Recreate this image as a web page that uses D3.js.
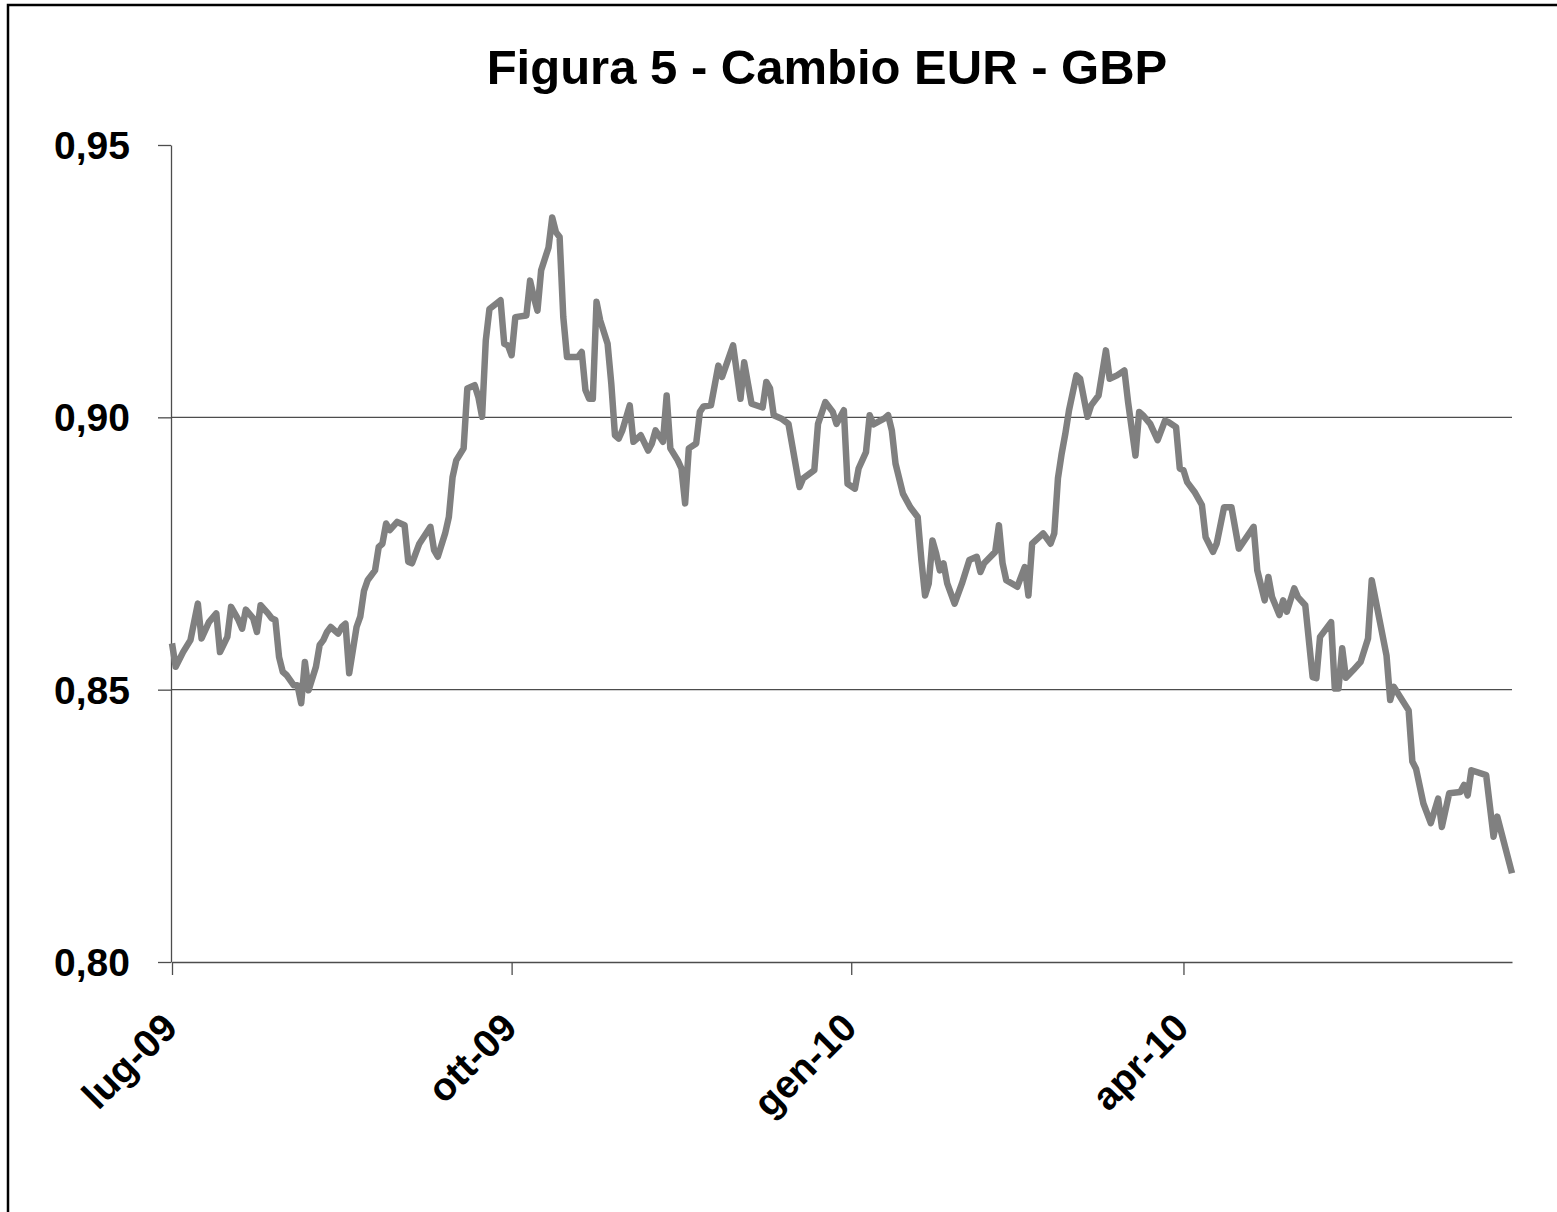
<!DOCTYPE html>
<html>
<head>
<meta charset="utf-8">
<script src="https://cdn.jsdelivr.net/npm/d3@7"></script>
<style>
  body { margin: 0; background: #fff; }
  text { font-family: "Liberation Sans", Arial, sans-serif; font-weight: bold; fill: #000; }
</style>
</head>
<body>
<div id="chart"></div>
<script>
// EUR/GBP exchange rate
const dates = [
  "2009-07-01","2009-07-02","2009-07-04","2009-07-06","2009-07-08","2009-07-09","2009-07-11","2009-07-13","2009-07-14","2009-07-16",
  "2009-07-17","2009-07-19","2009-07-20","2009-07-21","2009-07-23","2009-07-24","2009-07-25","2009-07-27","2009-07-28","2009-07-29",
  "2009-07-30","2009-07-31","2009-08-01","2009-08-03","2009-08-04","2009-08-05","2009-08-06","2009-08-07","2009-08-09","2009-08-10",
  "2009-08-11","2009-08-12","2009-08-13","2009-08-15","2009-08-16","2009-08-17","2009-08-18","2009-08-20","2009-08-21","2009-08-22",
  "2009-08-23","2009-08-25","2009-08-26","2009-08-27","2009-08-28","2009-08-29","2009-08-31","2009-09-02","2009-09-03","2009-09-04",
  "2009-09-06","2009-09-09","2009-09-10","2009-09-11","2009-09-13","2009-09-14","2009-09-15","2009-09-16","2009-09-18","2009-09-19",
  "2009-09-21","2009-09-22","2009-09-23","2009-09-24","2009-09-25","2009-09-28","2009-09-29","2009-09-30","2009-10-01","2009-10-02",
  "2009-10-05","2009-10-06","2009-10-07","2009-10-08","2009-10-09","2009-10-11","2009-10-12","2009-10-13","2009-10-14","2009-10-15",
  "2009-10-16","2009-10-19","2009-10-20","2009-10-21","2009-10-22","2009-10-23","2009-10-24","2009-10-25","2009-10-27","2009-10-28",
  "2009-10-29","2009-10-30","2009-10-31","2009-11-02","2009-11-03","2009-11-05","2009-11-07","2009-11-08","2009-11-09","2009-11-11",
  "2009-11-12","2009-11-13","2009-11-15","2009-11-16","2009-11-17","2009-11-18","2009-11-20","2009-11-21","2009-11-22","2009-11-24",
  "2009-11-26","2009-11-27","2009-11-30","2009-12-02","2009-12-03","2009-12-05","2009-12-08","2009-12-09","2009-12-10","2009-12-11",
  "2009-12-13","2009-12-15","2009-12-18","2009-12-19","2009-12-22","2009-12-23","2009-12-25","2009-12-27","2009-12-28","2009-12-30",
  "2009-12-31","2010-01-02","2010-01-03","2010-01-05","2010-01-06","2010-01-07","2010-01-10","2010-01-11","2010-01-12","2010-01-13",
  "2010-01-15","2010-01-17","2010-01-19","2010-01-20","2010-01-21","2010-01-22","2010-01-23","2010-01-24","2010-01-25","2010-01-26",
  "2010-01-27","2010-01-29","2010-01-31","2010-02-02","2010-02-04","2010-02-05","2010-02-06","2010-02-09","2010-02-10","2010-02-11",
  "2010-02-12","2010-02-15","2010-02-17","2010-02-18","2010-02-19","2010-02-22","2010-02-24","2010-02-25","2010-02-26","2010-02-27",
  "2010-02-28","2010-03-01","2010-03-03","2010-03-04","2010-03-06","2010-03-07","2010-03-09","2010-03-11","2010-03-12","2010-03-14",
  "2010-03-16","2010-03-17","2010-03-19","2010-03-20","2010-03-21","2010-03-23","2010-03-25","2010-03-27","2010-03-28","2010-03-30",
  "2010-03-31","2010-04-01","2010-04-02","2010-04-04","2010-04-06","2010-04-07","2010-04-09","2010-04-10","2010-04-12","2010-04-14",
  "2010-04-16","2010-04-20","2010-04-21","2010-04-23","2010-04-24","2010-04-25","2010-04-27","2010-04-28","2010-04-29","2010-05-01",
  "2010-05-02","2010-05-04","2010-05-06","2010-05-07","2010-05-08","2010-05-11","2010-05-12","2010-05-13","2010-05-14","2010-05-15",
  "2010-05-17","2010-05-19","2010-05-21","2010-05-22","2010-05-26","2010-05-27","2010-05-28","2010-06-01","2010-06-02","2010-06-03",
  "2010-06-05","2010-06-07","2010-06-09","2010-06-10","2010-06-12","2010-06-15","2010-06-16","2010-06-17","2010-06-18","2010-06-22",
  "2010-06-24","2010-06-25","2010-06-29"
];
const values = [
  0.8585,0.8542,0.8569,0.8591,0.8658,0.8594,0.8624,0.8640,0.8569,0.8597,
  0.8652,0.8628,0.8612,0.8647,0.8631,0.8606,0.8655,0.8640,0.8631,0.8628,
  0.8560,0.8533,0.8527,0.8508,0.8508,0.8475,0.8551,0.8499,0.8542,0.8582,
  0.8591,0.8606,0.8615,0.8603,0.8615,0.8621,0.8530,0.8615,0.8634,0.8681,
  0.8701,0.8719,0.8762,0.8768,0.8805,0.8793,0.8808,0.8802,0.8735,0.8732,
  0.8768,0.8799,0.8756,0.8744,0.8787,0.8817,0.8890,0.8921,0.8943,0.9053,
  0.9059,0.9037,0.9001,0.9141,0.9199,0.9215,0.9135,0.9132,0.9114,0.9184,
  0.9187,0.9251,0.9221,0.9196,0.9270,0.9312,0.9367,0.9340,0.9331,0.9184,
  0.9111,0.9111,0.9120,0.9050,0.9034,0.9034,0.9212,0.9178,0.9135,0.9062,
  0.8967,0.8961,0.8976,0.9022,0.8955,0.8967,0.8939,0.8952,0.8976,0.8955,
  0.9040,0.8943,0.8921,0.8906,0.8842,0.8943,0.8952,0.9010,0.9020,0.9022,
  0.9095,0.9074,0.9132,0.9034,0.9101,0.9025,0.9018,0.9065,0.9053,0.9004,
  0.8998,0.8988,0.8872,0.8888,0.8903,0.8988,0.9028,0.9010,0.8988,0.9013,
  0.8878,0.8869,0.8906,0.8936,0.9004,0.8987,0.8998,0.9004,0.8976,0.8915,
  0.8860,0.8835,0.8817,0.8738,0.8673,0.8695,0.8774,0.8750,0.8719,0.8732,
  0.8695,0.8658,0.8695,0.8738,0.8744,0.8716,0.8732,0.8753,0.8802,0.8732,
  0.8701,0.8689,0.8725,0.8673,0.8768,0.8787,0.8768,0.8787,0.8888,0.8933,
  0.8970,0.9013,0.9077,0.9071,0.9001,0.9022,0.9040,0.9123,0.9071,0.9077,
  0.9086,0.9028,0.8930,0.9010,0.9004,0.8988,0.8958,0.8994,0.8991,0.8982,
  0.8906,0.8903,0.8881,0.8863,0.8839,0.8780,0.8753,0.8768,0.8835,0.8835,
  0.8759,0.8799,0.8719,0.8664,0.8707,0.8670,0.8637,0.8664,0.8643,0.8686,
  0.8670,0.8655,0.8523,0.8521,0.8597,0.8624,0.8502,0.8502,0.8576,0.8522,
  0.8536,0.8551,0.8594,0.8701,0.8563,0.8481,0.8505,0.8462,0.8368,0.8355,
  0.8291,0.8255,0.8300,0.8248,0.8310,0.8312,0.8325,0.8306,0.8352,0.8343,
  0.8230,0.8267,0.8163
];

const yTicks = [0.80, 0.85, 0.90, 0.95];
const gridValues = [0.85, 0.90];
const xTickDates = ["2009-07-01", "2009-10-01", "2010-01-01", "2010-04-01"];
const xTickLabels = ["lug-09", "ott-09", "gen-10", "apr-10"];
const chartTitle = "Figura 5 - Cambio EUR - GBP";

const width = 1557, height = 1212;
const parseDate = d3.utcParse("%Y-%m-%d");
const itLocale = d3.formatLocale({ decimal: ",", thousands: ".", grouping: [3], currency: ["€", ""] });
const fmt = itLocale.format(".2f");

const data = dates.map((d, i) => ({ date: parseDate(d), value: values[i] }));

const svg = d3.select("#chart")
    .append("svg")
    .attr("width", width)
    .attr("height", height);

svg.append("rect").attr("width", width).attr("height", height).attr("fill", "#fff");

// frame of the original picture (top and left edges only)
svg.append("path")
    .attr("d", `M8,${height} V5 H${width}`)
    .attr("fill", "none")
    .attr("stroke", "#000")
    .attr("stroke-width", 2.5);

const x = d3.scaleUtc()
    .domain([parseDate("2009-07-01"), parseDate("2010-06-29")])
    .range([172, 1512]);

const y = d3.scaleLinear()
    .domain([0.80, 0.95])
    .range([962, 145]);

// title
svg.append("text")
    .attr("x", 827)
    .attr("y", 84)
    .attr("text-anchor", "middle")
    .style("font-size", "49px")
    .text(chartTitle);

// horizontal gridlines
svg.selectAll(".grid")
    .data(gridValues)
    .enter().append("line")
    .attr("class", "grid")
    .attr("x1", x.range()[0])
    .attr("x2", x.range()[1])
    .attr("y1", d => y(d))
    .attr("y2", d => y(d))
    .attr("stroke", "#4d4d4d")
    .attr("stroke-width", 1.3);

// y axis
const yAxis = svg.append("g")
    .attr("transform", "translate(171,0)")
    .call(d3.axisLeft(y).tickValues(yTicks).tickFormat(fmt).tickSize(13).tickSizeOuter(0).tickPadding(28));
yAxis.selectAll("path, line").attr("stroke", "#4d4d4d").attr("stroke-width", 1.3);
yAxis.selectAll("text").style("font-size", "39px").attr("dy", "0.35em");

// x axis
const xAxis = svg.append("g")
    .attr("transform", "translate(0,962)")
    .call(d3.axisBottom(x)
        .tickValues(xTickDates.map(parseDate))
        .tickFormat((d, i) => xTickLabels[i])
        .tickSize(13)
        .tickSizeOuter(0));
xAxis.selectAll("path, line").attr("stroke", "#4d4d4d").attr("stroke-width", 1.3);
xAxis.selectAll("text")
    .style("font-size", "39px")
    .attr("text-anchor", "end")
    .attr("x", 0)
    .attr("y", 0)
    .attr("dy", 0)
    .attr("transform", "translate(7,68) rotate(-45)");

// the series
const line = d3.line()
    .x(d => x(d.date))
    .y(d => y(d.value));

svg.append("path")
    .datum(data)
    .attr("d", line)
    .attr("fill", "none")
    .attr("stroke", "#808080")
    .attr("stroke-width", 6.5)
    .attr("stroke-linejoin", "round");
</script>
</body>
</html>
